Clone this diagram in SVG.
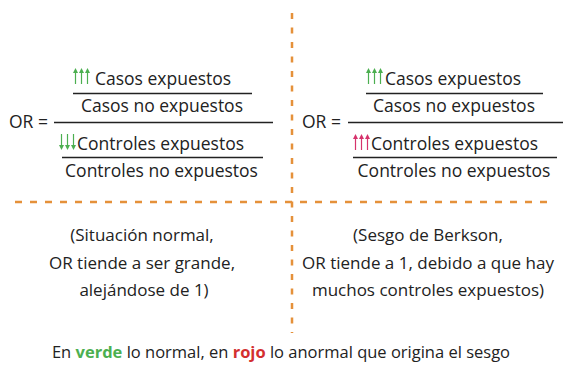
<svg xmlns="http://www.w3.org/2000/svg" width="564" height="376" viewBox="0 0 564 376">
<style>
text{font-family:"Open Sans","Noto Sans","Liberation Sans",sans-serif;font-size:17px;fill:#222}
.f{font-size:17.5px}
.lg{font-size:16.5px}
.m{text-anchor:middle}
.bar{stroke:#222;stroke-width:1.3;fill:none}
.dash{stroke:#e5913a;stroke-width:2.5;fill:none}
.g{stroke:#4caf50;fill:#4caf50}
.r{stroke:#d6336c;fill:#d6336c}
.arr{stroke-width:1.2}
.gt{fill:#4caf50;font-weight:bold}
.rt{fill:#d32f2f;font-weight:bold}
</style>
<defs>
<g id="up">
<path d="M2.5 16V2" class="arr"/><path d="M0 5L2.5 0L5 5Z" stroke="none"/>
<path d="M8.5 16V2" class="arr"/><path d="M6 5L8.5 0L11 5Z" stroke="none"/>
<path d="M14.5 16V2" class="arr"/><path d="M12 5L14.5 0L17 5Z" stroke="none"/>
</g>
<g id="down">
<path d="M2.5 0V14" class="arr"/><path d="M0 11L2.5 16L5 11Z" stroke="none"/>
<path d="M8.5 0V14" class="arr"/><path d="M6 11L8.5 16L11 11Z" stroke="none"/>
<path d="M14.5 0V14" class="arr"/><path d="M12 11L14.5 16L17 11Z" stroke="none"/>
</g>
</defs>
<g id="connectors">
<line class="dash" x1="292" y1="13" x2="292" y2="333" stroke-dasharray="6 8.5"/>
<line class="dash" x1="15" y1="202" x2="553" y2="202" stroke-dasharray="7 8"/>
</g>
<g id="left-formula">
<text class="f" x="9" y="128">OR =</text>
<use href="#up" x="73" y="68" class="g"/>
<text class="f" x="95" y="85">Casos expuestos</text>
<line class="bar" x1="73" y1="93.5" x2="252" y2="93.5"/>
<text class="f m" x="162" y="112">Casos no expuestos</text>
<line class="bar" x1="54" y1="122.5" x2="273" y2="122.5"/>
<use href="#down" x="59" y="134" class="g"/>
<text class="f" x="77" y="150">Controles expuestos</text>
<line class="bar" x1="62" y1="157.5" x2="263" y2="157.5"/>
<text class="f m" x="161.5" y="177">Controles no expuestos</text>
</g>
<g id="right-formula">
<text class="f" x="302" y="128">OR =</text>
<use href="#up" x="366" y="68" class="g"/>
<text class="f" x="385" y="85">Casos expuestos</text>
<line class="bar" x1="366" y1="93.5" x2="543" y2="93.5"/>
<text class="f m" x="454" y="112">Casos no expuestos</text>
<line class="bar" x1="348" y1="122.5" x2="563" y2="122.5"/>
<use href="#up" x="353" y="134" class="r"/>
<text class="f" x="371" y="150">Controles expuestos</text>
<line class="bar" x1="353" y1="157.5" x2="557" y2="157.5"/>
<text class="f m" x="454" y="177">Controles no expuestos</text>
</g>
<g id="left-note">
<text class="m" x="142" y="241">(Situación normal,</text>
<text class="m" x="142" y="269">OR tiende a ser grande,</text>
<text class="m" x="144" y="296">alejándose de 1)</text>
</g>
<g id="right-note">
<text class="m" x="428" y="241">(Sesgo de Berkson,</text>
<text class="m" x="428" y="269">OR tiende a 1, debido a que hay</text>
<text class="m" x="428" y="296">muchos controles expuestos)</text>
</g>
<g id="legend">
<text class="m lg" x="281" y="358">En <tspan class="gt">verde</tspan> lo normal, en <tspan class="rt">rojo</tspan> lo anormal que origina el sesgo</text>
</g>
</svg>
